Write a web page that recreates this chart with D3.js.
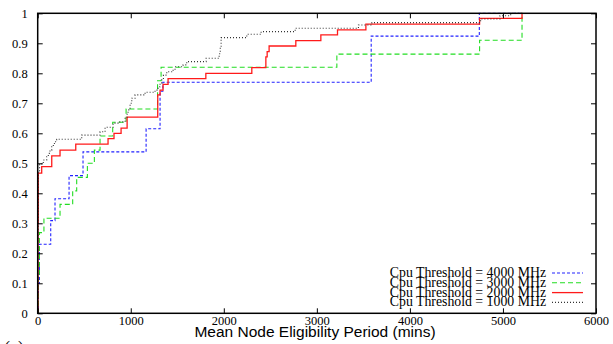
<!DOCTYPE html>
<html><head><meta charset="utf-8">
<script src="https://cdn.jsdelivr.net/npm/d3@7"></script>
<style>body{margin:0;background:#fff}svg{display:block}</style>
</head><body>
<svg id="c" width="613" height="344"></svg>
<script>
// Step CDF data: [x (mins), cumulative fraction]
const thr4000 = [[0,0],[8,0.1],[18,0.23],[140,0.309],[186,0.382],[337,0.459],[487,0.538],[1165,0.615],[1315,0.74],[1345,0.77],[3584,0.924],[4746,1.0],[5205,1.0]];
const thr3000 = [[0,0],[8,0.13],[18,0.269],[67,0.317],[240,0.363],[376,0.408],[419,0.453],[534,0.5],[609,0.544],[670,0.591],[806,0.637],[950,0.681],[1288,0.775],[1326,0.82],[3215,0.864],[4749,0.91],[5205,1.0],[5210,1.0]];
const thr2000 = [[0,0],[3,0.3],[6,0.467],[43,0.489],[151,0.525],[240,0.544],[409,0.564],[756,0.582],[820,0.6],[896,0.617],[961,0.654],[1290,0.728],[1315,0.744],[1347,0.763],[1401,0.782],[1807,0.8],[2301,0.819],[2452,0.855],[2466,0.872],[2487,0.891],[2774,0.909],[3043,0.928],[3222,0.945],[3527,0.964],[4749,0.983],[5205,1.0],[5210,1.0]];
const thr1000 = [[0,0],[2,0.25],[5,0.47],[20,0.498],[60,0.511],[97,0.522],[114,0.533],[132,0.544],[151,0.555],[168,0.566],[186,0.572],[204,0.58],[473,0.594],[670,0.605],[724,0.62],[810,0.634],[863,0.638],[939,0.65],[961,0.667],[971,0.678],[993,0.7],[1011,0.717],[1046,0.728],[1154,0.737],[1261,0.744],[1294,0.755],[1315,0.767],[1333,0.778],[1351,0.794],[1387,0.805],[1455,0.81],[1476,0.822],[1563,0.828],[1602,0.839],[1810,0.85],[1950,0.865],[1962,0.89],[1971,0.919],[2247,0.93],[2401,0.939],[2767,0.95],[3447,0.961],[3592,0.969],[4760,0.981],[4968,0.992],[5083,1.0],[5205,1.0]];
const seriesNames = ["Cpu Threshold = 4000 MHz","Cpu Threshold = 3000 MHz","Cpu Threshold = 2000 MHz","Cpu Threshold = 1000 MHz"];
const xTicks = [0,1000,2000,3000,4000,5000,6000];
const yTicks = [0,0.1,0.2,0.3,0.4,0.5,0.6,0.7,0.8,0.9,1];
const xLabel = "Mean Node Eligibility Period (mins)";

const L = 37.7, R = 596, T = 13.3, B = 313.3;
const svg = d3.select("#c");
const x = d3.scaleLinear().domain([0,6000]).range([L,R]);
const y = d3.scaleLinear().domain([0,1]).range([B,T]);

svg.append("clipPath").attr("id","clip").append("rect")
  .attr("x",L).attr("y",T-1).attr("width",R-L).attr("height",B-T+1);

const styles = [
  {data:thr4000, color:"#2222ff", dash:"3,2", w:1.1},
  {data:thr3000, color:"#22dd22", dash:"5,3", w:1.1},
  {data:thr2000, color:"#ff1a1a", dash:null, w:1.3},
  {data:thr1000, color:"#333333", dash:"1,2", w:1.1}
];
const line = d3.line().x(d=>x(d[0])).y(d=>y(d[1])).curve(d3.curveStepAfter);
const g = svg.append("g").attr("clip-path","url(#clip)");
styles.forEach(s=>{
  g.append("path").attr("d",line(s.data)).attr("fill","none")
    .attr("stroke",s.color).attr("stroke-width",s.w)
    .attr("stroke-dasharray",s.dash);
});

// axes with inward ticks on all four sides
const tickFont = "'Liberation Serif','Times New Roman',serif";
const axB = svg.append("g").attr("transform",`translate(0,${B})`)
  .call(d3.axisBottom(x).tickValues(xTicks).tickSizeInner(-5).tickSizeOuter(0).tickPadding(3).tickFormat(d3.format("d")));
const axT = svg.append("g").attr("transform",`translate(0,${T})`)
  .call(d3.axisTop(x).tickValues(xTicks).tickSizeInner(-5).tickSizeOuter(0).tickFormat(""));
const axL = svg.append("g").attr("transform",`translate(${L},0)`)
  .call(d3.axisLeft(y).tickValues(yTicks).tickSizeInner(-5).tickSizeOuter(0).tickPadding(10).tickFormat(d=>String(+d.toFixed(1))));
const axR = svg.append("g").attr("transform",`translate(${R},0)`)
  .call(d3.axisRight(y).tickValues(yTicks).tickSizeInner(-5).tickSizeOuter(0).tickFormat(""));
[axB,axT,axL,axR].forEach(a=>{
  a.select(".domain").remove();
  a.selectAll("line").attr("stroke","#000").attr("stroke-width",1);
  a.selectAll("text").attr("font-family",tickFont).attr("font-size",12.5).attr("fill","#000");
});
svg.append("rect").attr("x",L).attr("y",T).attr("width",R-L).attr("height",B-T)
  .attr("fill","none").attr("stroke","#000").attr("stroke-width",1.5);

svg.append("text").attr("x",315).attr("y",337).attr("text-anchor","middle")
  .attr("font-family","'Liberation Sans',Arial,sans-serif").attr("font-size",15.5).text(xLabel);

// legend
const lg = svg.append("g");
styles.forEach((s,i)=>{
  const yy = 273 + i*9.8;
  lg.append("text").attr("x",546).attr("y",yy+4).attr("text-anchor","end")
    .attr("font-family",tickFont).attr("font-size",13.8).text(seriesNames[i]);
  lg.append("line").attr("x1",552).attr("x2",583).attr("y1",yy).attr("y2",yy)
    .attr("stroke",s.color).attr("stroke-width",s.w).attr("stroke-dasharray",s.dash);
});

// caption fragment cut by the window edge
svg.append("text").attr("x",4).attr("y",354).attr("font-family",tickFont).attr("font-size",18).text("(a)");
</script>
</body></html>
